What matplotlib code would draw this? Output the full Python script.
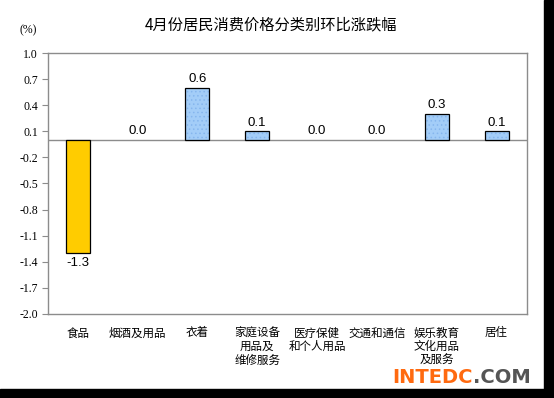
import numpy as np
import matplotlib
matplotlib.use("Agg")
import matplotlib.pyplot as plt
from matplotlib.patches import Rectangle

plt.rcParams['font.family'] = ['Noto Sans CJK SC', 'DejaVu Sans']
plt.rcParams['hatch.linewidth'] = 0.6

# data
categories = ["食品", "烟酒及用品", "衣着", "家庭设备\n用品及\n维修服务",
              "医疗保健\n和个人用品", "交通和通信", "娱乐教育\n文化用品\n及服务", "居住"]
values = [-1.3, 0.0, 0.6, 0.1, 0.0, 0.0, 0.3, 0.1]
yticks = [1.0, 0.7, 0.4, 0.1, -0.2, -0.5, -0.8, -1.1, -1.4, -1.7, -2.0]
title = "4月份居民消费价格分类别环比涨跌幅"

fig = plt.figure(figsize=(5.54, 3.98), dpi=100)
ax = fig.add_axes([0.0861, 0.2111, 0.8643, 0.6557])

x = np.arange(len(values))
colors = ['#FFCC00' if v < 0 else '#A3CDF8' for v in values]
bars = ax.bar(x, values, width=0.4, color=colors, edgecolor='black', linewidth=0.9, zorder=3)
for b, v in zip(bars, values):
    if v > 0:
        b.set_hatch('....')
        b._hatch_color = matplotlib.colors.to_rgba('#86B6EE')
    elif v == 0:
        b.set_linewidth(0)

for xi, v in zip(x, values):
    if v < 0:
        ax.text(xi, v - 0.04, f"{v:.1f}", ha='center', va='top', fontsize=9.5,
                family='Liberation Sans')
    else:
        ax.text(xi, v + 0.03, f"{v:.1f}", ha='center', va='bottom', fontsize=9.5,
                family='Liberation Sans')

ax.set_xlim(-0.5, len(values) - 0.5)
ax.set_ylim(-2.0, 1.0)
ax.set_yticks(yticks)
ax.set_yticklabels([f"{t:.1f}" for t in yticks], family='Liberation Serif', fontsize=8.5)
ax.axhline(0, color='#8C8C8C', linewidth=1, zorder=2)

ax.set_xticks(x)
ax.set_xticklabels(categories, fontsize=8.3, linespacing=1.08, va='top')
ax.tick_params(axis='x', length=0, pad=9)
ax.tick_params(axis='y', length=4, width=0.8, color='#8C8C8C', pad=3)
for s in ax.spines.values():
    s.set_color('#8C8C8C')
    s.set_linewidth(1)

fig.text(0.49, 0.937, title, ha='center', va='center', fontsize=11)
fig.text(0.05, 0.925, "(%)", ha='center', va='center', fontsize=8.5, family='Liberation Serif')

# watermark
wm_y = 0.038
wm1 = fig.text(0.708, wm_y, "INTEDC", ha='left', va='baseline', fontsize=14,
               fontweight='bold', color='#FF6A10', family='DejaVu Sans')
fig.canvas.draw()
bb = wm1.get_window_extent().transformed(fig.transFigure.inverted())
fig.text(bb.x1, wm_y, ".COM", ha='left', va='baseline', fontsize=14,
         fontweight='bold', color='#555555', family='DejaVu Sans')

# black frame edges
fig.patches.append(Rectangle((544 / 554, 0), 10 / 554, 1, transform=fig.transFigure,
                             color='black', zorder=10))
fig.patches.append(Rectangle((0, 0), 1, 9 / 398, transform=fig.transFigure,
                             color='black', zorder=10))

fig.savefig("out.png", dpi=100)
